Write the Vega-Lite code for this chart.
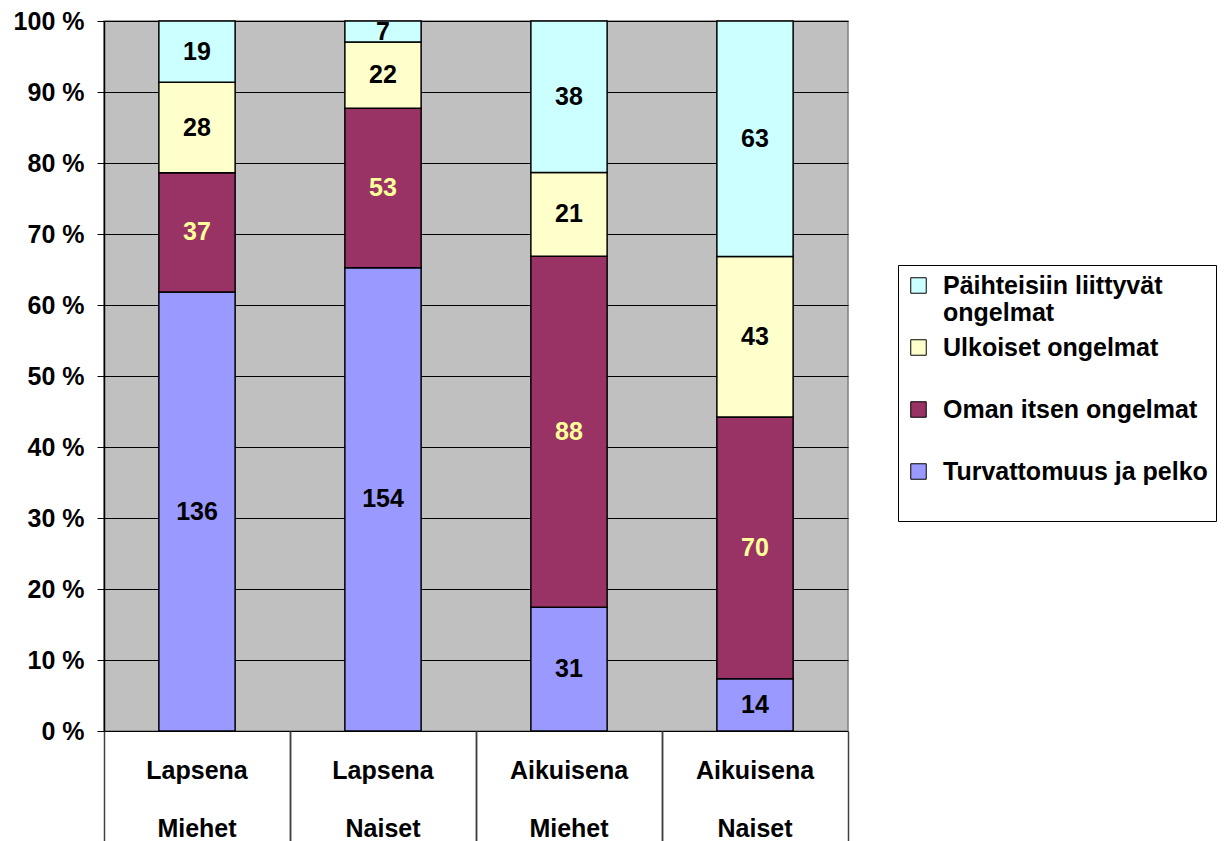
{
  "$schema": "https://vega.github.io/schema/vega-lite/v6.json",
  "autosize": {"type": "none"},
  "padding": {"left": 104, "top": 21, "right": 377, "bottom": 110},
  "width": 744,
  "height": 710,
  "background": "white",
  "config": {
    "font": "Liberation Sans",
    "view": {"fill": "#C0C0C0", "stroke": "#808080", "strokeWidth": 1.5}
  },
  "data": {
    "values": [
      {"group": "Lapsena Miehet", "cat": "Turvattomuus ja pelko", "ord": 1, "n": 136},
      {"group": "Lapsena Miehet", "cat": "Oman itsen ongelmat", "ord": 2, "n": 37},
      {"group": "Lapsena Miehet", "cat": "Ulkoiset ongelmat", "ord": 3, "n": 28},
      {"group": "Lapsena Miehet", "cat": "Päihteisiin liittyvät ongelmat", "ord": 4, "n": 19},
      {"group": "Lapsena Naiset", "cat": "Turvattomuus ja pelko", "ord": 1, "n": 154},
      {"group": "Lapsena Naiset", "cat": "Oman itsen ongelmat", "ord": 2, "n": 53},
      {"group": "Lapsena Naiset", "cat": "Ulkoiset ongelmat", "ord": 3, "n": 22},
      {"group": "Lapsena Naiset", "cat": "Päihteisiin liittyvät ongelmat", "ord": 4, "n": 7},
      {"group": "Aikuisena Miehet", "cat": "Turvattomuus ja pelko", "ord": 1, "n": 31},
      {"group": "Aikuisena Miehet", "cat": "Oman itsen ongelmat", "ord": 2, "n": 88},
      {"group": "Aikuisena Miehet", "cat": "Ulkoiset ongelmat", "ord": 3, "n": 21},
      {"group": "Aikuisena Miehet", "cat": "Päihteisiin liittyvät ongelmat", "ord": 4, "n": 38},
      {"group": "Aikuisena Naiset", "cat": "Turvattomuus ja pelko", "ord": 1, "n": 14},
      {"group": "Aikuisena Naiset", "cat": "Oman itsen ongelmat", "ord": 2, "n": 70},
      {"group": "Aikuisena Naiset", "cat": "Ulkoiset ongelmat", "ord": 3, "n": 43},
      {"group": "Aikuisena Naiset", "cat": "Päihteisiin liittyvät ongelmat", "ord": 4, "n": 63}
    ]
  },
  "resolve": {"axis": {"x": "independent"}, "scale": {"x": "shared"}},
  "layer": [
    {
      "mark": {"type": "bar", "stroke": "black", "strokeWidth": 1.5, "width": {"band": 0.41}},
      "encoding": {
        "x": {
          "field": "group", "type": "nominal", "sort": null,
          "scale": {"paddingInner": 0, "paddingOuter": 0},
          "axis": {
            "title": null, "orient": "bottom", "labelAngle": 0,
            "domain": false, "grid": false,
            "bandPosition": 0, "tickSize": 110, "tickColor": "#404040", "tickWidth": 1.5,
            "labelExpr": "split(datum.label, ' ')",
            "labelFontSize": 25, "labelFontWeight": "bold", "labelColor": "black",
            "labelLineHeight": 58, "labelBaseline": "top", "labelPadding": -83
          }
        },
        "y": {
          "field": "n", "type": "quantitative", "stack": "normalize",
          "scale": {"domain": [0, 1], "nice": false},
          "axis": {
            "title": null,
            "values": [0, 0.1, 0.2, 0.3, 0.4, 0.5, 0.6, 0.7, 0.8, 0.9, 1],
            "labelExpr": "round(datum.value * 100) + ' %'",
            "labelFontSize": 25, "labelFontWeight": "bold", "labelColor": "black",
            "labelPadding": 13, "tickSize": 7, "tickColor": "black",
            "domainColor": "black", "domainWidth": 1.5,
            "grid": true, "gridColor": "black", "gridWidth": 1.2
          }
        },
        "order": {"field": "ord", "type": "quantitative"},
        "color": {
          "field": "cat", "type": "nominal",
          "scale": {
            "domain": ["Päihteisiin liittyvät ongelmat", "Ulkoiset ongelmat", "Oman itsen ongelmat", "Turvattomuus ja pelko"],
            "range": ["#CCFFFF", "#FFFFCC", "#993366", "#9999FF"]
          },
          "legend": {
            "title": " ", "titleOrient": "bottom", "titleFontSize": 16, "titlePadding": 12,
            "orient": "none", "legendX": 794, "legendY": 244,
            "padding": 8, "strokeColor": "black", "fillColor": "white",
            "labelFontSize": 25, "labelFontWeight": "bold", "labelColor": "black",
            "labelLimit": 0, "labelLineHeight": 32,
            "labelExpr": "datum.label === 'Päihteisiin liittyvät ongelmat' ? ['Päihteisiin liittyvät', 'ongelmat'] : datum.label",
            "symbolType": "square", "symbolSize": 240, "symbolStrokeColor": "black",
            "symbolStrokeWidth": 1, "symbolOpacity": 1, "labelOffset": 12,
            "rowPadding": 9, "gridAlign": "all"
          }
        }
      }
    },
    {
      "mark": {"type": "text", "fontSize": 25, "fontWeight": "bold"},
      "encoding": {
        "x": {
          "field": "group", "type": "nominal", "sort": null,
          "axis": {
            "title": null, "orient": "bottom", "labels": false, "domain": false, "grid": false,
            "bandPosition": 1, "tickSize": 110, "tickColor": "#404040", "tickWidth": 1.5
          }
        },
        "y": {"field": "n", "type": "quantitative", "stack": "normalize", "bandPosition": 0.5},
        "order": {"field": "ord", "type": "quantitative"},
        "detail": {"field": "cat"},
        "text": {"field": "n", "type": "quantitative"},
        "color": {
          "condition": {"test": "datum.cat === 'Oman itsen ongelmat'", "value": "#FFFF99"},
          "value": "black"
        }
      }
    }
  ]
}
